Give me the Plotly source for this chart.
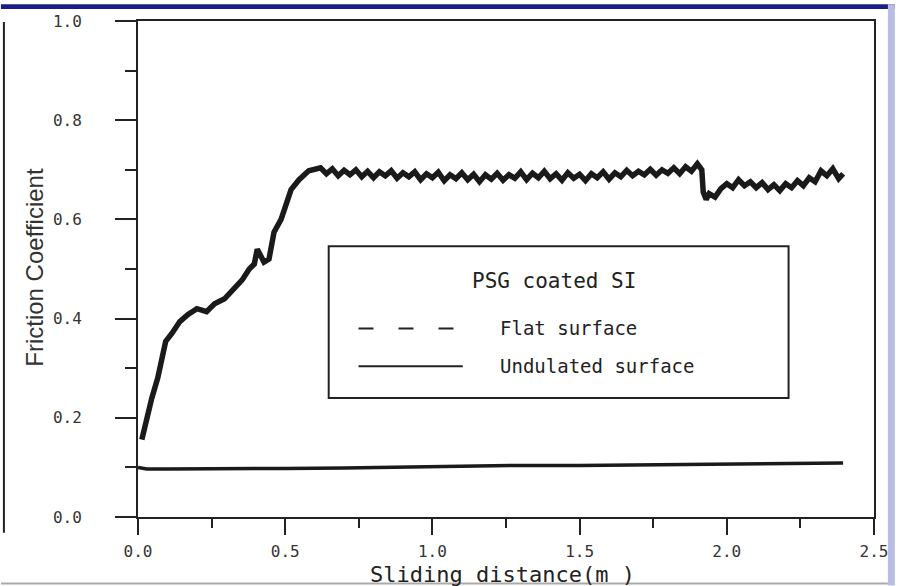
import plotly.graph_objects as go

# ---------------- data ----------------
flat_x = [0.013, 0.024, 0.047, 0.067, 0.081, 0.094, 0.115, 0.142, 0.169, 0.200,
          0.233, 0.260, 0.294, 0.327, 0.354, 0.378, 0.395, 0.405, 0.428, 0.445,
          0.462, 0.486, 0.503, 0.520, 0.547, 0.580,
          0.62, 0.64, 0.66, 0.68, 0.70, 0.72, 0.74, 0.76, 0.78, 0.80,
          0.82, 0.84, 0.86, 0.88, 0.90, 0.92, 0.94, 0.96, 0.98, 1.00,
          1.02, 1.04, 1.06, 1.08, 1.10, 1.12, 1.14, 1.16, 1.18, 1.20,
          1.22, 1.24, 1.26, 1.28, 1.30, 1.32, 1.34, 1.36, 1.38, 1.40,
          1.42, 1.44, 1.46, 1.48, 1.50, 1.52, 1.54, 1.56, 1.58, 1.60,
          1.62, 1.64, 1.66, 1.68, 1.70, 1.72, 1.74, 1.76, 1.78, 1.80,
          1.82, 1.84, 1.86, 1.88, 1.90, 1.915, 1.92, 1.93, 1.94, 1.96,
          1.98, 2.00, 2.02, 2.04, 2.06, 2.08, 2.10, 2.12, 2.14, 2.16,
          2.18, 2.20, 2.22, 2.24, 2.26, 2.28, 2.30, 2.32, 2.34, 2.36,
          2.38, 2.395]
flat_y = [0.156, 0.184, 0.240, 0.280, 0.320, 0.354, 0.370, 0.394, 0.408, 0.420,
          0.414, 0.430, 0.440, 0.460, 0.478, 0.500, 0.510, 0.540, 0.514, 0.520,
          0.574, 0.600, 0.634, 0.660, 0.680, 0.698,
          0.704, 0.692, 0.702, 0.688, 0.699, 0.690, 0.700, 0.686, 0.697, 0.684,
          0.696, 0.688, 0.698, 0.683, 0.694, 0.686, 0.696, 0.680, 0.692, 0.684,
          0.695, 0.678, 0.690, 0.682, 0.694, 0.680, 0.691, 0.676, 0.690, 0.681,
          0.693, 0.679, 0.690, 0.683, 0.696, 0.680, 0.693, 0.684, 0.697, 0.682,
          0.692, 0.679, 0.694, 0.683, 0.691, 0.678, 0.692, 0.684, 0.696, 0.681,
          0.694, 0.686, 0.699, 0.688, 0.697, 0.690, 0.701, 0.689, 0.700, 0.693,
          0.704, 0.692, 0.706, 0.697, 0.712, 0.700, 0.655, 0.640, 0.652, 0.645,
          0.662, 0.672, 0.664, 0.680, 0.668, 0.676, 0.664, 0.674, 0.660, 0.670,
          0.658, 0.672, 0.664, 0.678, 0.668, 0.684, 0.676, 0.698, 0.688, 0.702,
          0.682, 0.692]

undul_x = [0.0, 0.03, 0.10, 0.30, 0.50, 0.70, 0.90, 1.10, 1.30, 1.50,
           1.70, 1.90, 2.10, 2.30, 2.395]
undul_y = [0.100, 0.097, 0.097, 0.097, 0.098, 0.099, 0.101, 0.102, 0.104, 0.104,
           0.105, 0.106, 0.107, 0.108, 0.109]

y_ticks = [0.0, 0.2, 0.4, 0.6, 0.8, 1.0]
x_ticks = [0.0, 0.5, 1.0, 1.5, 2.0, 2.5]

legend_title = "PSG coated SI"
name_flat = "Flat surface"
name_undul = "Undulated surface"
x_title = "Sliding distance(m )"
y_title = "Friction Coefficient"

# ---------------- figure ----------------
W, H = 900, 586
L, R, T, B = 138, 879, 17, 517


def px(p):
    return (p - L) / (R - L)


def py(p):
    return (B - p) / (B - T)


fig = go.Figure()
fig.add_trace(go.Scatter(x=flat_x, y=flat_y, mode="lines", name=name_flat,
                         line=dict(color="#1a1a1a", width=5.5), showlegend=False))
fig.add_trace(go.Scatter(x=undul_x, y=undul_y, mode="lines", name=name_undul,
                         line=dict(color="#1a1a1a", width=3.5), showlegend=False))

tickfont = dict(family="DejaVu Sans Mono", size=16, color="#333333")
fig.update_xaxes(range=[0, 2.5], tickvals=x_ticks, ticktext=[f"{v:.1f}" for v in x_ticks],
                 showline=True, linewidth=2, linecolor="#222", mirror=True,
                 ticks="outside", ticklen=16, tickwidth=2, tickcolor="#222",
                 minor=dict(ticks="outside", ticklen=9, tickwidth=2, tickcolor="#222", dtick=0.25, tick0=0),
                 showgrid=False, zeroline=False, tickfont=tickfont, ticklabelstandoff=3)
fig.update_yaxes(range=[0, 1.0], tickvals=y_ticks, ticktext=[f"{v:.1f}" for v in y_ticks],
                 showline=True, linewidth=2, linecolor="#222", mirror=True,
                 ticks="outside", ticklen=21, tickwidth=2, tickcolor="#222",
                 minor=dict(ticks="outside", ticklen=11, tickwidth=2, tickcolor="#222", dtick=0.1, tick0=0),
                 showgrid=False, zeroline=False, tickfont=tickfont, ticklabelstandoff=30)

shapes = []
# legend box
shapes.append(dict(type="rect", xref="paper", yref="paper", x0=px(330), x1=px(793),
                   y0=py(397), y1=py(244), line=dict(color="#222", width=2), fillcolor="white", layer="above"))
# legend samples
shapes.append(dict(type="line", xref="paper", yref="paper", x0=px(360), x1=px(458),
                   y0=py(327), y1=py(327), line=dict(color="#222", width=2, dash="15px,25px")))
shapes.append(dict(type="line", xref="paper", yref="paper", x0=px(360), x1=px(465),
                   y0=py(365), y1=py(365), line=dict(color="#222", width=2)))
# page decorations (screenshot frame)
shapes.append(dict(type="rect", xref="paper", yref="paper", x0=px(0), x1=px(900),
                   y0=py(5), y1=py(0), line=dict(width=0), fillcolor="#1c1c86", layer="above"))
shapes.append(dict(type="rect", xref="paper", yref="paper", x0=px(893), x1=px(900),
                   y0=py(586), y1=py(0), line=dict(width=0), fillcolor="#b9bde6", layer="above"))
shapes.append(dict(type="line", xref="paper", yref="paper", x0=px(0), x1=px(893),
                   y0=py(584), y1=py(584), line=dict(color="#aaaaaa", width=2)))
shapes.append(dict(type="line", xref="paper", yref="paper", x0=px(3), x1=px(3),
                   y0=py(533), y1=py(18), line=dict(color="#222", width=2)))

annotations = [
    dict(text=legend_title, xref="paper", yref="paper", x=px(557), y=py(279), showarrow=False,
         font=dict(family="DejaVu Sans Mono", size=21, color="#222"), xanchor="center", yanchor="middle"),
    dict(text=name_flat, xref="paper", yref="paper", x=px(500), y=py(326), showarrow=False,
         font=dict(family="DejaVu Sans Mono", size=19, color="#222"), xanchor="left", yanchor="middle"),
    dict(text=name_undul, xref="paper", yref="paper", x=px(500), y=py(365), showarrow=False,
         font=dict(family="DejaVu Sans Mono", size=19, color="#222"), xanchor="left", yanchor="middle"),
    dict(text=x_title, xref="paper", yref="paper", x=px(505), y=py(575), showarrow=False,
         font=dict(family="DejaVu Sans Mono", size=22, color="#222"), xanchor="center", yanchor="middle"),
    dict(text=y_title, xref="paper", yref="paper", x=px(33), y=py(265), showarrow=False, textangle=-90,
         font=dict(family="Liberation Sans", size=24, color="#333"), xanchor="center", yanchor="middle"),
]

fig.update_layout(width=W, height=H, margin=dict(l=L, r=W - R, t=T, b=H - B),
                  paper_bgcolor="white", plot_bgcolor="white",
                  shapes=shapes, annotations=annotations, showlegend=False)

fig.write_html("out.html")
